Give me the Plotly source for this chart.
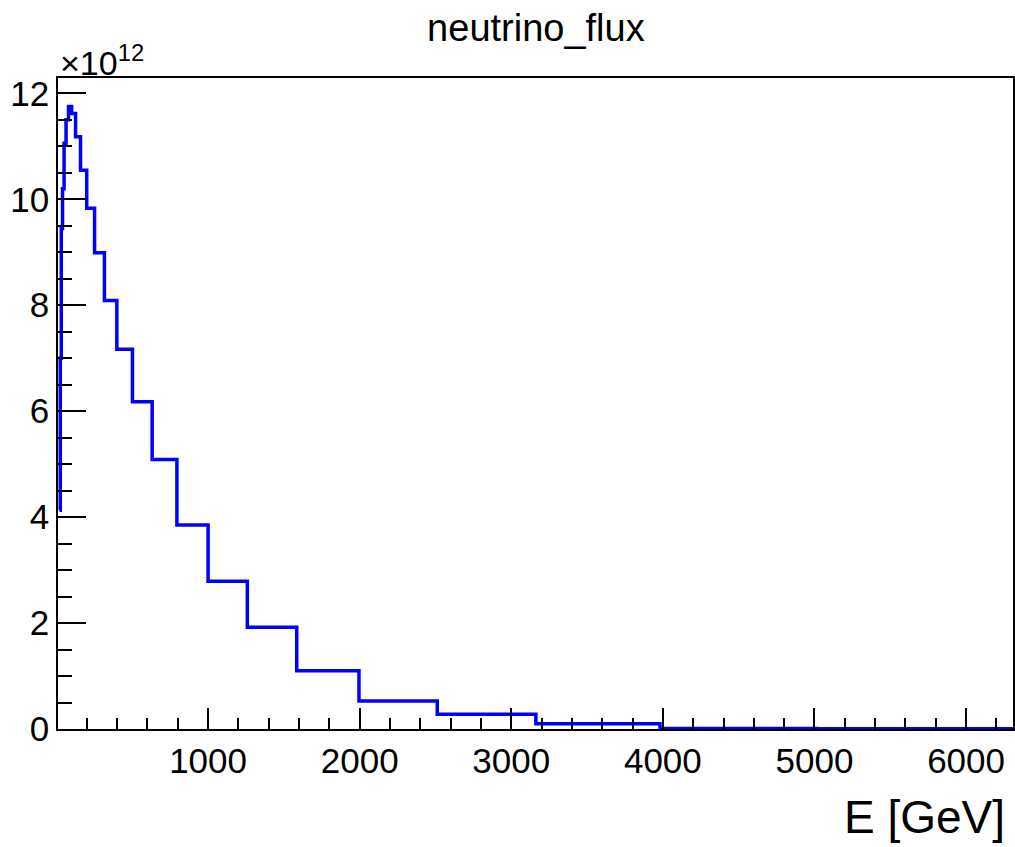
import plotly.graph_objects as go

# Bin edges [GeV] (log-spaced, 10 per decade)
bin_edges = [19.95, 25.12, 31.62, 39.81, 50.12, 63.10, 79.43, 100.0, 125.9, 158.5,
             199.5, 251.2, 316.2, 398.1, 501.2, 631.0, 794.3, 1000.0, 1258.9, 1584.9,
             1995.3, 2511.9, 3162.3, 3981.1, 5011.9, 6309.6]
# Bin contents in units of 1e12
flux = [4.13, 7.00, 9.45, 10.20, 11.06, 11.50, 11.75, 11.62, 11.18, 10.55,
        9.83, 8.99, 8.09, 7.17, 6.18, 5.09, 3.85, 2.79, 1.92, 1.10,
        0.53, 0.28, 0.10, 0.01, 0.003]
x_tick_vals = [1000, 2000, 3000, 4000, 5000, 6000]
x_tick_text = ["1000", "2000", "3000", "4000", "5000", "6000"]
y_tick_vals = [0, 2, 4, 6, 8, 10, 12]
y_tick_text = ["0", "2", "4", "6", "8", "10", "12"]

FONT = "Liberation Sans, Arial, Helvetica, sans-serif"

fig = go.Figure()
fig.add_trace(go.Scatter(
    x=bin_edges,
    y=flux + [flux[-1]],
    mode="lines",
    line=dict(shape="hv", color="#0000ff", width=3.5),
    showlegend=False,
))

fig.update_layout(
    width=1015, height=847,
    margin=dict(l=58, r=2, t=78, b=118, autoexpand=False),
    paper_bgcolor="white", plot_bgcolor="white",
    font=dict(family=FONT, size=35, color="black"),
    title=dict(text="neutrino_flux", x=0.528, xanchor="center",
               y=1 - 28 / 847, yanchor="middle", yref="container",
               font=dict(family=FONT, size=38, color="black")),
    showlegend=False,
)

fig.update_xaxes(
    range=[10, 6309.6], automargin=False,
    tickmode="array", tickvals=x_tick_vals, ticktext=x_tick_text,
    ticks="inside", ticklen=21, tickwidth=1.5, tickcolor="black",
    minor=dict(dtick=200, tick0=0, ticks="inside", ticklen=11, tickwidth=1.5, tickcolor="black"),
    showline=True, linecolor="black", linewidth=1.5, mirror=True,
    showgrid=False, zeroline=False,
    tickfont=dict(family=FONT, size=35),
)
fig.update_yaxes(
    range=[0, 12.29], automargin=False,
    tickmode="array", tickvals=y_tick_vals, ticktext=y_tick_text,
    ticks="inside", ticklen=28, tickwidth=1.5, tickcolor="black",
    minor=dict(dtick=0.5, tick0=0, ticks="inside", ticklen=14, tickwidth=1.5, tickcolor="black"),
    showline=True, linecolor="black", linewidth=1.5, mirror=True,
    showgrid=False, zeroline=False,
    tickfont=dict(family=FONT, size=35),
)

# Exponent label (ROOT style)
fig.add_annotation(
    text="×10<sup>12</sup>", xref="paper", yref="paper", x=0, y=1,
    xanchor="left", yanchor="bottom", showarrow=False,
    font=dict(family=FONT, size=34, color="black"), yshift=-6,
)
# Axis title aligned right
fig.add_annotation(
    text="E [GeV]", xref="paper", yref="paper", x=1, y=0,
    xanchor="right", yanchor="top", showarrow=False,
    font=dict(family=FONT, size=46, color="black"), yshift=-60, xshift=-6,
)

fig.write_html(
    "out.html",
    config={"displayModeBar": False},
    post_script="document.body.style.margin='0';document.body.style.padding='0';"
                "document.documentElement.style.overflow='hidden';",
)
